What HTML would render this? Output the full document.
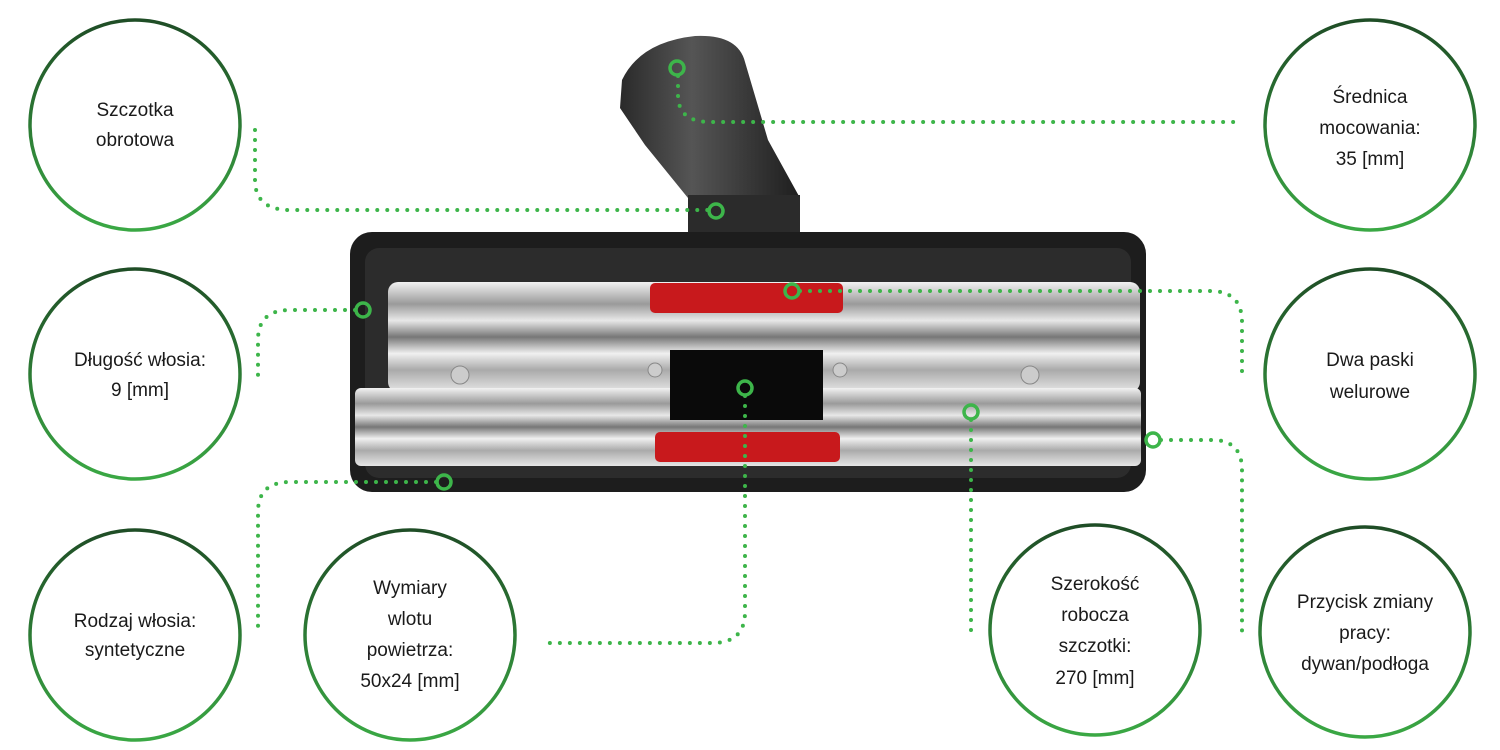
<!DOCTYPE html>
<html><head><meta charset="utf-8"><style>
html,body{margin:0;padding:0;background:#fff;width:1500px;height:750px;overflow:hidden}
svg{display:block}
text{font-family:"Liberation Sans",sans-serif;font-size:19px;fill:#1a1a1a;text-anchor:middle}
</style></head><body>
<svg width="1500" height="750" viewBox="0 0 1500 750">
<defs>
<linearGradient id="cg" x1="0" y1="0" x2="0" y2="1"><stop offset="0" stop-color="#1f4d26"/><stop offset="1" stop-color="#3aa844"/></linearGradient>
<linearGradient id="chrome" x1="0" y1="0" x2="0" y2="1"><stop offset="0" stop-color="#f2f2f2"/><stop offset="0.2" stop-color="#9a9a9a"/><stop offset="0.35" stop-color="#e8e8e8"/><stop offset="0.5" stop-color="#777"/><stop offset="0.65" stop-color="#f0f0f0"/><stop offset="0.8" stop-color="#aaa"/><stop offset="1" stop-color="#e6e6e6"/></linearGradient>
<linearGradient id="tube" x1="0" y1="0" x2="1" y2="0"><stop offset="0" stop-color="#2a2a2a"/><stop offset="0.4" stop-color="#555"/><stop offset="1" stop-color="#1e1e1e"/></linearGradient>
</defs>
<!-- neck -->
<path d="M620,108 L622,80 Q640,42 695,36 Q738,34 745,62 L768,140 L800,198 L688,198 L645,145 Z" fill="url(#tube)"/>
<rect x="688" y="195" width="112" height="40" fill="#2b2b2b"/>
<!-- body -->
<rect x="350" y="232" width="796" height="260" rx="22" fill="#1d1d1d"/>
<rect x="365" y="248" width="766" height="230" rx="14" fill="#2c2c2c"/>
<rect x="388" y="282" width="752" height="110" rx="10" fill="url(#chrome)"/>
<rect x="355" y="388" width="786" height="78" rx="6" fill="url(#chrome)"/>
<rect x="650" y="283" width="193" height="30" rx="5" fill="#c8191c"/>
<rect x="655" y="432" width="185" height="30" rx="5" fill="#c8191c"/>
<rect x="670" y="350" width="153" height="70" fill="#0a0a0a"/>
<circle cx="460" cy="375" r="9" fill="#ccc" stroke="#888"/>
<circle cx="1030" cy="375" r="9" fill="#ccc" stroke="#888"/>
<circle cx="655" cy="370" r="7" fill="#ccc" stroke="#888"/>
<circle cx="840" cy="370" r="7" fill="#ccc" stroke="#888"/>
<!-- connectors -->
<g fill="none" stroke="#3db54a" stroke-width="4" stroke-linecap="round" stroke-dasharray="0 10">
<path d="M255,130 V180 Q255,210 290,210 H708"/>
<path d="M678,76 V95 Q678,122 710,122 H1240"/>
<path d="M355,310 H290 Q258,310 258,340 V375"/>
<path d="M800,291 H1210 Q1242,291 1242,322 V380"/>
<path d="M436,482 H290 Q258,482 258,512 V630"/>
<path d="M745,396 V612 Q745,643 712,643 H540"/>
<path d="M971,420 V635"/>
<path d="M1161,440 H1212 Q1242,440 1242,470 V632"/>
</g>
<g fill="none" stroke="#3db54a" stroke-width="3.5">
<circle cx="716" cy="211" r="7"/><circle cx="677" cy="68" r="7"/><circle cx="363" cy="310" r="7"/>
<circle cx="792" cy="291" r="7"/><circle cx="444" cy="482" r="7"/><circle cx="745" cy="388" r="7"/>
<circle cx="971" cy="412" r="7"/><circle cx="1153" cy="440" r="7"/>
</g>
<!-- circles -->
<g fill="none" stroke="url(#cg)" stroke-width="3.5">
<circle cx="135" cy="125" r="105"/><circle cx="1370" cy="125" r="105"/>
<circle cx="135" cy="374" r="105"/><circle cx="1370" cy="374" r="105"/>
<circle cx="135" cy="635" r="105"/><circle cx="410" cy="635" r="105"/>
<circle cx="1095" cy="630" r="105"/><circle cx="1365" cy="632" r="105"/>
</g>
<text x="135" y="116">Szczotka</text><text x="135" y="146">obrotowa</text>
<text x="1370" y="103">Średnica</text><text x="1370" y="134">mocowania:</text><text x="1370" y="165">35 [mm]</text>
<text x="140" y="366">Długość włosia:</text><text x="140" y="396">9 [mm]</text>
<text x="1370" y="366">Dwa paski</text><text x="1370" y="398">welurowe</text>
<text x="135" y="627">Rodzaj włosia:</text><text x="135" y="656">syntetyczne</text>
<text x="410" y="594">Wymiary</text><text x="410" y="625">wlotu</text><text x="410" y="656">powietrza:</text><text x="410" y="687">50x24 [mm]</text>
<text x="1095" y="590">Szerokość</text><text x="1095" y="621">robocza</text><text x="1095" y="652">szczotki:</text><text x="1095" y="684">270 [mm]</text>
<text x="1365" y="608">Przycisk zmiany</text><text x="1365" y="639">pracy:</text><text x="1365" y="670">dywan/podłoga</text>
</svg>
</body></html>
